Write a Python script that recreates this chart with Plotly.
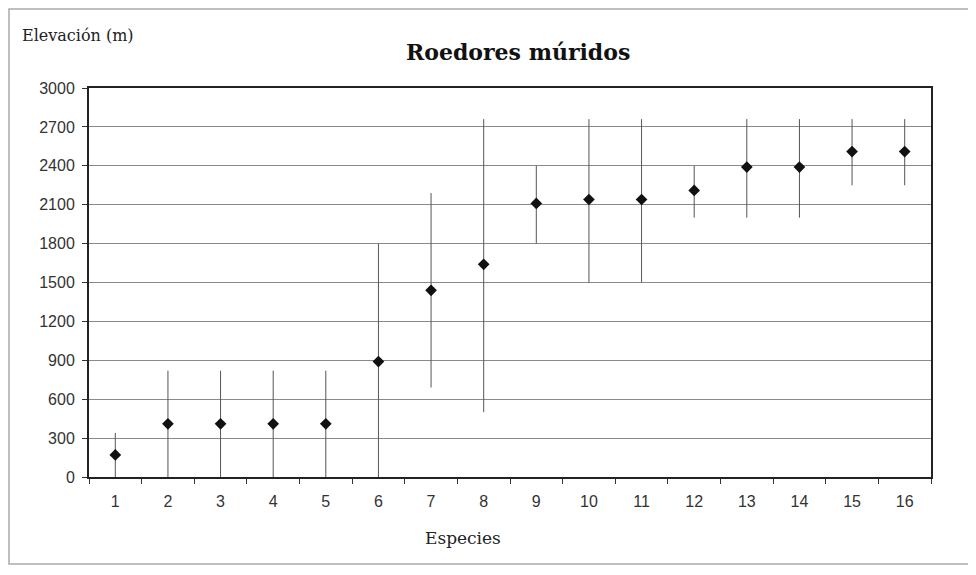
import plotly.graph_objects as go

species = [str(i) for i in range(1, 17)]
elev_mid = [170, 410, 410, 410, 410, 890, 1440, 1640, 2110, 2140, 2140, 2210, 2390, 2390, 2510, 2510]
elev_max = [340, 820, 820, 820, 820, 1800, 2190, 2760, 2400, 2760, 2760, 2400, 2760, 2760, 2760, 2760]
elev_min = [0, 0, 0, 0, 0, 0, 690, 500, 1800, 1500, 1500, 2000, 2000, 2000, 2250, 2250]
y_ticks = list(range(0, 3001, 300))

up = [mx - m for mx, m in zip(elev_max, elev_mid)]
down = [m - mn for mn, m in zip(elev_min, elev_mid)]

fig = go.Figure()
fig.add_trace(go.Scatter(
    x=species, y=elev_mid, mode="markers",
    marker=dict(symbol="diamond", size=9, color="#111111"),
    error_y=dict(type="data", symmetric=False, array=up, arrayminus=down,
                 width=0, thickness=1, color="#555555"),
    showlegend=False,
))

OFF = 8  # page body margin
W, H = 960, 559
# plot area in reference page pixels
PL, PR, PT, PB = 89, 931, 88, 477
L, T = PL - OFF, PT - OFF
R, B = W - (PR - OFF), H - (PB - OFF)
pw, ph = W - L - R, H - T - B

def px(x):
    return (x - PL) / pw

def py(y):
    return (PB - y) / ph

fig.update_layout(
    width=W, height=H,
    margin=dict(l=L, r=R, t=T, b=B),
    paper_bgcolor="white", plot_bgcolor="white",
    font=dict(family="Liberation Sans, Arial, sans-serif", size=16, color="#333333"),
    xaxis=dict(type="category", tickson="boundaries", ticks="outside", ticklen=5,
               tickcolor="#333333", showgrid=False, showline=True, linecolor="#222222",
               linewidth=2, mirror=True, range=[-0.5, 15.5],
               ticklabelstandoff=9, tickfont=dict(size=16)),
    yaxis=dict(range=[0, 3000], tickvals=y_ticks, ticks="outside", ticklen=5,
               tickcolor="#333333", showgrid=True, gridcolor="#8a8a8a", gridwidth=1,
               showline=True, linecolor="#222222", linewidth=2, mirror=True,
               zeroline=False, ticklabelstandoff=4, tickfont=dict(size=16)),
    shapes=[dict(type="rect", xref="paper", yref="paper",
                 x0=px(9), x1=px(974), y0=py(9), y1=py(564),
                 line=dict(color="#aaaaaa", width=1.5), layer="below")],
    annotations=[
        dict(text="<b>Roedores múridos</b>", xref="paper", yref="paper",
             x=px(518), y=py(52), xanchor="center", yanchor="middle", showarrow=False,
             font=dict(family="DejaVu Serif, serif", size=22, color="#111111")),
        dict(text="Elevación (m)", xref="paper", yref="paper",
             x=px(20), y=py(35), xanchor="left", yanchor="middle", showarrow=False,
             font=dict(family="DejaVu Serif, serif", size=16, color="#222222")),
        dict(text="Especies", xref="paper", yref="paper",
             x=px(463), y=py(538), xanchor="center", yanchor="middle", showarrow=False,
             font=dict(family="DejaVu Serif, serif", size=17, color="#222222")),
    ],
)

fig.write_html("out.html")
